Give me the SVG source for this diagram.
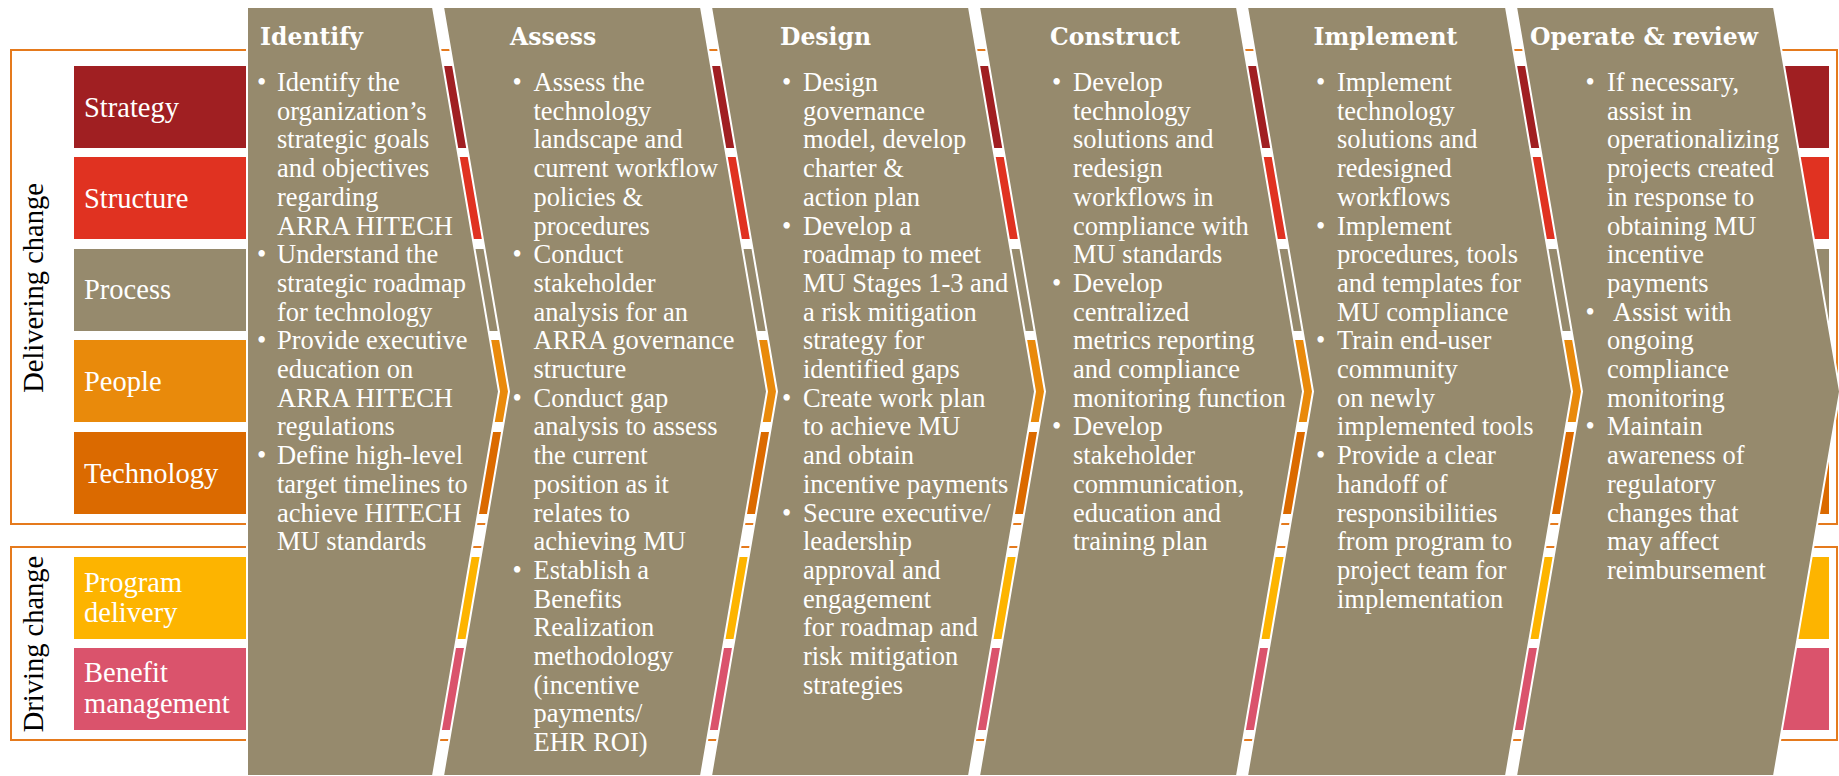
<svg xmlns="http://www.w3.org/2000/svg" width="1839" height="776" viewBox="0 0 1839 776">
<style>
.box{fill:none;stroke:#E57A1D;stroke-width:2}
.side{font-family:"Liberation Serif",serif;font-size:28.5px;fill:#000}
.lbl{font-family:"Liberation Serif",serif;font-size:28.5px;fill:#fff}
.chev{fill:#968A6D;stroke:#fff;stroke-width:2}
.hd{font-family:"DejaVu Serif",serif;font-weight:bold;font-size:23.5px;fill:#fff}
.bd{font-family:"Liberation Serif",serif;font-size:26.5px;fill:#fff}
</style>
<rect width="1839" height="776" fill="#fff"/>
<g id="delivering-change">
<rect class="box" x="11" y="50" width="1826" height="474"/>
<text class="side" text-anchor="middle" transform="translate(43,288) rotate(-90)">Delivering change</text>
</g>
<g id="driving-change">
<rect class="box" x="11" y="547" width="1826" height="193"/>
<text class="side" text-anchor="middle" transform="translate(43,644) rotate(-90)">Driving change</text>
</g>
<g id="row-strategy"><rect x="74" y="66" width="1755" height="82" fill="#A01F22"/><text class="lbl" x="84" y="117">Strategy</text></g>
<g id="row-structure"><rect x="74" y="157" width="1755" height="82" fill="#E03221"/><text class="lbl" x="84" y="208">Structure</text></g>
<g id="row-process"><rect x="74" y="249" width="1755" height="82" fill="#968A6D"/><text class="lbl" x="84" y="299">Process</text></g>
<g id="row-people"><rect x="74" y="340" width="1755" height="82" fill="#E98A0B"/><text class="lbl" x="84" y="391">People</text></g>
<g id="row-technology"><rect x="74" y="432" width="1755" height="82" fill="#DB6A00"/><text class="lbl" x="84" y="483">Technology</text></g>
<g id="row-program-delivery"><rect x="74" y="557" width="1755" height="82" fill="#FDB400"/><text class="lbl" x="84"><tspan x="84" y="592">Program</tspan><tspan x="84" y="622">delivery</tspan></text></g>
<g id="row-benefit-management"><rect x="74" y="648" width="1755" height="82" fill="#DA536C"/><text class="lbl" x="84"><tspan x="84" y="682">Benefit</tspan><tspan x="84" y="713">management</tspan></text></g>

<g id="identify">
<path class="chev" d="M247,7 L433,7 L499,391.5 L433,776 L247,776 Z"/>
<text class="hd" x="260" y="45">Identify</text>
<text class="bd"><tspan x="257" y="91">•</tspan><tspan x="257" y="263.2">•</tspan><tspan x="257" y="349.3">•</tspan><tspan x="257" y="464.1">•</tspan></text>
<text class="bd">
<tspan x="277" y="91">Identify the</tspan>
<tspan x="277" y="119.7">organization’s</tspan>
<tspan x="277" y="148.4">strategic goals</tspan>
<tspan x="277" y="177.1">and objectives</tspan>
<tspan x="277" y="205.8">regarding</tspan>
<tspan x="277" y="234.5">ARRA HITECH</tspan>
<tspan x="277" y="263.2">Understand the</tspan>
<tspan x="277" y="291.9">strategic roadmap</tspan>
<tspan x="277" y="320.6">for technology</tspan>
<tspan x="277" y="349.3">Provide executive</tspan>
<tspan x="277" y="378">education on</tspan>
<tspan x="277" y="406.7">ARRA HITECH</tspan>
<tspan x="277" y="435.4">regulations</tspan>
<tspan x="277" y="464.1">Define high-level</tspan>
<tspan x="277" y="492.8">target timelines to</tspan>
<tspan x="277" y="521.5">achieve HITECH</tspan>
<tspan x="277" y="550.2">MU standards</tspan>
</text>
</g>

<g id="assess">
<path class="chev" d="M443,7 L701,7 L767,391.5 L701,776 L443,776 L509,391.5 Z"/>
<text class="hd" x="510" y="45">Assess</text>
<text class="bd"><tspan x="512.5" y="91">•</tspan><tspan x="512.5" y="263.2">•</tspan><tspan x="512.5" y="406.7">•</tspan><tspan x="512.5" y="578.9">•</tspan></text>
<text class="bd">
<tspan x="533.5" y="91">Assess the</tspan>
<tspan x="533.5" y="119.7">technology</tspan>
<tspan x="533.5" y="148.4">landscape and</tspan>
<tspan x="533.5" y="177.1">current workflow</tspan>
<tspan x="533.5" y="205.8">policies &amp;</tspan>
<tspan x="533.5" y="234.5">procedures</tspan>
<tspan x="533.5" y="263.2">Conduct</tspan>
<tspan x="533.5" y="291.9">stakeholder</tspan>
<tspan x="533.5" y="320.6">analysis for an</tspan>
<tspan x="533.5" y="349.3">ARRA governance</tspan>
<tspan x="533.5" y="378">structure</tspan>
<tspan x="533.5" y="406.7">Conduct gap</tspan>
<tspan x="533.5" y="435.4">analysis to assess</tspan>
<tspan x="533.5" y="464.1">the current</tspan>
<tspan x="533.5" y="492.8">position as it</tspan>
<tspan x="533.5" y="521.5">relates to</tspan>
<tspan x="533.5" y="550.2">achieving MU</tspan>
<tspan x="533.5" y="578.9">Establish a</tspan>
<tspan x="533.5" y="607.6">Benefits</tspan>
<tspan x="533.5" y="636.3">Realization</tspan>
<tspan x="533.5" y="665">methodology</tspan>
<tspan x="533.5" y="693.7">(incentive</tspan>
<tspan x="533.5" y="722.4">payments/</tspan>
<tspan x="533.5" y="751.1">EHR ROI)</tspan>
</text>
</g>

<g id="design">
<path class="chev" d="M711,7 L969,7 L1035,391.5 L969,776 L711,776 L777,391.5 Z"/>
<text class="hd" x="780" y="45">Design</text>
<text class="bd"><tspan x="782" y="91">•</tspan><tspan x="782" y="234.5">•</tspan><tspan x="782" y="406.7">•</tspan><tspan x="782" y="521.5">•</tspan></text>
<text class="bd">
<tspan x="803" y="91">Design</tspan>
<tspan x="803" y="119.7">governance</tspan>
<tspan x="803" y="148.4">model, develop</tspan>
<tspan x="803" y="177.1">charter &amp;</tspan>
<tspan x="803" y="205.8">action plan</tspan>
<tspan x="803" y="234.5">Develop a</tspan>
<tspan x="803" y="263.2">roadmap to meet</tspan>
<tspan x="803" y="291.9">MU Stages 1-3 and</tspan>
<tspan x="803" y="320.6">a risk mitigation</tspan>
<tspan x="803" y="349.3">strategy for</tspan>
<tspan x="803" y="378">identified gaps</tspan>
<tspan x="803" y="406.7">Create work plan</tspan>
<tspan x="803" y="435.4">to achieve MU</tspan>
<tspan x="803" y="464.1">and obtain</tspan>
<tspan x="803" y="492.8">incentive payments</tspan>
<tspan x="803" y="521.5">Secure executive/</tspan>
<tspan x="803" y="550.2">leadership</tspan>
<tspan x="803" y="578.9">approval and</tspan>
<tspan x="803" y="607.6">engagement</tspan>
<tspan x="803" y="636.3">for roadmap and</tspan>
<tspan x="803" y="665">risk mitigation</tspan>
<tspan x="803" y="693.7">strategies</tspan>
</text>
</g>

<g id="construct">
<path class="chev" d="M979,7 L1237,7 L1303,391.5 L1237,776 L979,776 L1045,391.5 Z"/>
<text class="hd" x="1050" y="45">Construct</text>
<text class="bd"><tspan x="1052" y="91">•</tspan><tspan x="1052" y="291.9">•</tspan><tspan x="1052" y="435.4">•</tspan></text>
<text class="bd">
<tspan x="1073" y="91">Develop</tspan>
<tspan x="1073" y="119.7">technology</tspan>
<tspan x="1073" y="148.4">solutions and</tspan>
<tspan x="1073" y="177.1">redesign</tspan>
<tspan x="1073" y="205.8">workflows in</tspan>
<tspan x="1073" y="234.5">compliance with</tspan>
<tspan x="1073" y="263.2">MU standards</tspan>
<tspan x="1073" y="291.9">Develop</tspan>
<tspan x="1073" y="320.6">centralized</tspan>
<tspan x="1073" y="349.3">metrics reporting</tspan>
<tspan x="1073" y="378">and compliance</tspan>
<tspan x="1073" y="406.7">monitoring function</tspan>
<tspan x="1073" y="435.4">Develop</tspan>
<tspan x="1073" y="464.1">stakeholder</tspan>
<tspan x="1073" y="492.8">communication,</tspan>
<tspan x="1073" y="521.5">education and</tspan>
<tspan x="1073" y="550.2">training plan</tspan>
</text>
</g>

<g id="implement">
<path class="chev" d="M1247,7 L1506,7 L1572,391.5 L1506,776 L1247,776 L1313,391.5 Z"/>
<text class="hd" x="1313.5" y="45">Implement</text>
<text class="bd"><tspan x="1316" y="91">•</tspan><tspan x="1316" y="234.5">•</tspan><tspan x="1316" y="349.3">•</tspan><tspan x="1316" y="464.1">•</tspan></text>
<text class="bd">
<tspan x="1337" y="91">Implement</tspan>
<tspan x="1337" y="119.7">technology</tspan>
<tspan x="1337" y="148.4">solutions and</tspan>
<tspan x="1337" y="177.1">redesigned</tspan>
<tspan x="1337" y="205.8">workflows</tspan>
<tspan x="1337" y="234.5">Implement</tspan>
<tspan x="1337" y="263.2">procedures, tools</tspan>
<tspan x="1337" y="291.9">and templates for</tspan>
<tspan x="1337" y="320.6">MU compliance</tspan>
<tspan x="1337" y="349.3">Train end-user</tspan>
<tspan x="1337" y="378">community</tspan>
<tspan x="1337" y="406.7">on newly</tspan>
<tspan x="1337" y="435.4">implemented tools</tspan>
<tspan x="1337" y="464.1">Provide a clear</tspan>
<tspan x="1337" y="492.8">handoff of</tspan>
<tspan x="1337" y="521.5">responsibilities</tspan>
<tspan x="1337" y="550.2">from program to</tspan>
<tspan x="1337" y="578.9">project team for</tspan>
<tspan x="1337" y="607.6">implementation</tspan>
</text>
</g>

<g id="operate-review">
<path class="chev" d="M1516,7 L1774,7 L1840,391.5 L1774,776 L1516,776 L1582,391.5 Z"/>
<text class="hd" x="1530" y="45">Operate &amp; review</text>
<text class="bd"><tspan x="1585.5" y="91">•</tspan><tspan x="1585.5" y="320.6">•</tspan><tspan x="1585.5" y="435.4">•</tspan></text>
<text class="bd">
<tspan x="1607" y="91">If necessary,</tspan>
<tspan x="1607" y="119.7">assist in</tspan>
<tspan x="1607" y="148.4">operationalizing</tspan>
<tspan x="1607" y="177.1">projects created</tspan>
<tspan x="1607" y="205.8">in response to</tspan>
<tspan x="1607" y="234.5">obtaining MU</tspan>
<tspan x="1607" y="263.2">incentive</tspan>
<tspan x="1607" y="291.9">payments</tspan>
<tspan x="1613" y="320.6">Assist with</tspan>
<tspan x="1607" y="349.3">ongoing</tspan>
<tspan x="1607" y="378">compliance</tspan>
<tspan x="1607" y="406.7">monitoring</tspan>
<tspan x="1607" y="435.4">Maintain</tspan>
<tspan x="1607" y="464.1">awareness of</tspan>
<tspan x="1607" y="492.8">regulatory</tspan>
<tspan x="1607" y="521.5">changes that</tspan>
<tspan x="1607" y="550.2">may affect</tspan>
<tspan x="1607" y="578.9">reimbursement</tspan>
</text>
</g>
</svg>
